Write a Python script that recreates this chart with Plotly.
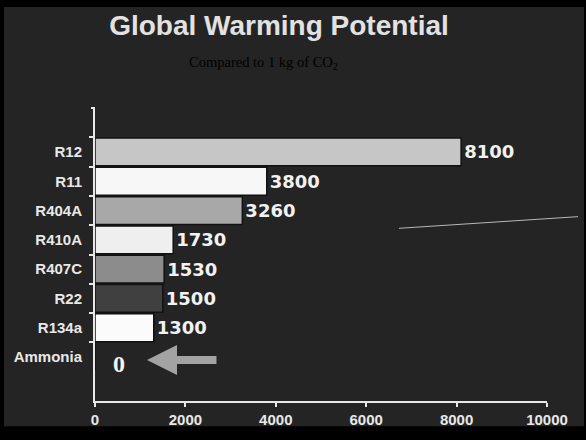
import plotly.graph_objects as go

categories = ["R12", "R11", "R404A", "R410A", "R407C", "R22", "R134a", "Ammonia"]
values = [8100, 3800, 3260, 1730, 1530, 1500, 1300, 0]
bar_colors = ["#c6c6c6", "#f7f7f7", "#a8a8a8", "#efefef", "#8c8c8c", "#404040", "#fbfbfb", "#fbfbfb"]
x_ticks = [0, 2000, 4000, 6000, 8000, 10000]

W, H = 586, 440
L, R, T, B = 95, 547, 108, 410  # plot area in px


def px_x(X):
    return (X - L) / (R - L)


def px_y(Y):
    return (B - Y) / (B - T)


texts = [str(v) if v > 0 else "" for v in values]

fig = go.Figure()
fig.add_trace(go.Bar(
    x=values, y=categories, orientation="h",
    marker=dict(color=bar_colors, line=dict(color="#111111", width=1.5)),
    text=texts, textposition="outside",
    textfont=dict(family="DejaVu Sans", size=18, color="#f2f2f2", weight="bold"),
    cliponaxis=False, hoverinfo="skip",
))

fig.update_layout(
    width=W, height=H,
    margin=dict(l=L, r=W - R, t=T, b=H - B, pad=0),
    paper_bgcolor="#000000",
    plot_bgcolor="rgba(0,0,0,0)",
    showlegend=False,
    bargap=0.05,
    title=dict(
        text="<b>Global Warming Potential</b>",
        x=279 / W, xref="container", xanchor="center",
        y=1 - 25 / H, yref="container", yanchor="middle",
        font=dict(family="Liberation Sans, Arial", size=28, color="#e2e2e2"),
    ),
    xaxis=dict(
        range=[0, 10000], tickvals=x_ticks, ticktext=[str(t) for t in x_ticks],
        showgrid=False, zeroline=False, showline=True, linecolor="#e8e8e8", linewidth=2,
        ticks="outside", ticklen=4, tickcolor="#e8e8e8", tickwidth=2,
        tickfont=dict(family="Liberation Sans, Arial", size=15, color="#e8e8e8", weight="bold"),
    ),
    yaxis=dict(
        type="category", categoryorder="array", categoryarray=categories,
        range=[8.5, -1.5],
        showgrid=False, zeroline=False, showline=True, linecolor="#e8e8e8", linewidth=2,
        ticks="outside", ticklen=4, tickcolor="#e8e8e8", tickwidth=2, tickson="boundaries",
        ticklabelstandoff=8,
        tickfont=dict(family="Liberation Sans, Arial", size=15, color="#e8e8e8", weight="bold"),
    ),
    shapes=[
        dict(type="rect", xref="paper", yref="paper", layer="below",
             x0=px_x(4), x1=px_x(584), y0=px_y(436), y1=px_y(4),
             fillcolor="#242424", line=dict(width=0)),
        dict(type="line", xref="paper", yref="paper",
             x0=px_x(399), x1=px_x(578), y0=px_y(232), y1=px_y(220),
             line=dict(color="#b8b8b8", width=1)),
        dict(type="line", xref="paper", yref="paper",
             x0=px_x(91), x1=px_x(95), y0=1, y1=1,
             line=dict(color="#e8e8e8", width=2)),
    ],
    annotations=[
        dict(text="Compared to 1 kg of CO<sub>2</sub>", xref="paper", yref="paper",
             x=px_x(263), y=px_y(62), xanchor="center", yanchor="middle", showarrow=False,
             font=dict(family="Liberation Serif, Times New Roman", size=14.5, color="#000000")),
        dict(text="<b>%d</b>" % values[-1], x=0, y=categories[-1], xref="x", yref="y",
             xanchor="center", yanchor="middle", xshift=24, yshift=-7, showarrow=False,
             font=dict(family="Liberation Serif, Times New Roman", size=24, color="#f5f5f5")),
        dict(text="", x=1150, y=categories[-1], xref="x", yref="y", ax=71, ay=0,
             yshift=-3, showarrow=True, arrowhead=2, arrowsize=0.75, arrowwidth=8,
             arrowcolor="#a3a3a3"),
    ],
)

fig.write_html("out.html")
